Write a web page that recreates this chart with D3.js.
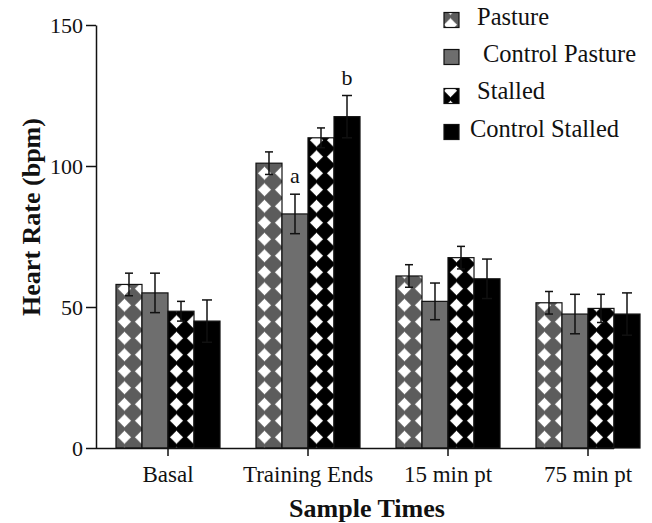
<!DOCTYPE html>
<html>
<head>
<meta charset="utf-8">
<script src="https://cdn.jsdelivr.net/npm/d3@7"></script>
<style>
  body { margin: 0; background: #fff; }
  svg text { font-family: "Liberation Serif", "Times New Roman", serif; fill: #111; }
</style>
</head>
<body>
<svg id="chart" width="652" height="523"></svg>
<script>
const categories = ['Basal', 'Training Ends', '15 min pt', '75 min pt'];
const seriesNames = ['Pasture', 'Control Pasture', 'Stalled', 'Control Stalled'];
const pasture = [58, 101, 61, 51.5];
const controlPasture = [55, 83, 52, 47.5];
const stalled = [48.5, 110, 67.5, 49.5];
const controlStalled = [45, 117.5, 60, 47.5];
const pastureErr = [4, 4, 4, 4];
const controlPastureErr = [7, 7, 6.5, 7];
const stalledErr = [3.5, 3.5, 4, 5];
const controlStalledErr = [7.5, 7.5, 7, 7.5];
const yTicks = [0, 50, 100, 150];
// significance letters: [category, series, letter]
const marks = [['Training Ends', 'Control Pasture', 'a'], ['Training Ends', 'Control Stalled', 'b']];

const values = [pasture, controlPasture, stalled, controlStalled];
const errors = [pastureErr, controlPastureErr, stalledErr, controlStalledErr];

const svg = d3.select('#chart');

// patterns: white diamonds on dark ground
const defs = svg.append('defs');
const diamond = 'M0,-6.6 Q0.8,-0.8 6.6,0 Q0.8,0.8 0,6.6 Q-0.8,0.8 -6.6,0 Q-0.8,-0.8 0,-6.6 Z';
const makePattern = (id, bg) => {
  const p = defs.append('pattern')
    .attr('id', id)
    .attr('patternUnits', 'userSpaceOnUse')
    .attr('width', 17)
    .attr('height', 16.5);
  p.append('rect').attr('width', 17).attr('height', 16.5).attr('fill', bg);
  p.append('path').attr('d', 'M0,-6.5 L6.5,0 L0,6.5 L-6.5,0 Z').attr('transform', 'translate(8.5,8.25)').attr('fill', '#fff');
  p.append('path').attr('d', diamond).attr('transform', 'translate(8.5,8.25) scale(1.05)').attr('fill', '#fff');
};
makePattern('patPasture', '#5c5c5c');
makePattern('patStalled', '#000');

const fills = ['url(#patPasture)', '#6e6e6e', 'url(#patStalled)', '#000'];

const y = d3.scaleLinear().domain([0, 150]).range([448, 25]);
const x0 = d3.scaleBand().domain(categories).range([98, 658]).paddingInner(0.257).paddingOuter(0.1285);
const x1 = d3.scaleBand().domain(seriesNames).range([0, x0.bandwidth()]);

// y axis
const yAxis = svg.append('g')
  .attr('transform', 'translate(96,0)')
  .call(d3.axisLeft(y).tickValues(yTicks).tickSize(10).tickSizeOuter(0).tickPadding(3));
yAxis.selectAll('text').style('font-size', '22px');
yAxis.selectAll('path, line').attr('stroke', '#111').attr('stroke-width', 1.5);

// bars
seriesNames.forEach((s, si) => {
  categories.forEach((c, ci) => {
    const g = svg.append('g').attr('transform', `translate(${x0(c) + x1(s)},0)`);
    g.append('rect')
      .attr('x', 0)
      .attr('y', y(values[si][ci]))
      .attr('width', x1.bandwidth())
      .attr('height', y(0) - y(values[si][ci]))
      .attr('fill', fills[si])
      .attr('stroke', '#111')
      .attr('stroke-width', 1.2);
    const cx = x1.bandwidth() / 2;
    const hi = y(values[si][ci] + errors[si][ci]);
    const lo = y(values[si][ci] - errors[si][ci]);
    const cap = si % 2 === 0 ? 4 : 5;
    const ebar = g.append('g').attr('stroke', '#111').attr('stroke-width', 1.5);
    ebar.append('line').attr('x1', cx).attr('x2', cx).attr('y1', hi).attr('y2', lo);
    ebar.append('line').attr('x1', cx - cap).attr('x2', cx + cap).attr('y1', hi).attr('y2', hi);
    ebar.append('line').attr('x1', cx - cap).attr('x2', cx + cap).attr('y1', lo).attr('y2', lo);
  });
});

// x axis
const xAxis = svg.append('g')
  .attr('transform', `translate(0,${y(0)})`)
  .call(d3.axisBottom(x0).tickSize(8).tickSizeOuter(0).tickPadding(10));
xAxis.select('.domain').attr('d', 'M96,0.5H614');
xAxis.selectAll('path, line').attr('stroke', '#111').attr('stroke-width', 1.5);
xAxis.selectAll('text').style('font-size', '23px');

// letters
marks.forEach(([c, s, t]) => {
  const si = seriesNames.indexOf(s);
  const ci = categories.indexOf(c);
  svg.append('text')
    .attr('x', x0(c) + x1(s) + x1.bandwidth() / 2)
    .attr('y', y(values[si][ci] + errors[si][ci]) - 11)
    .attr('text-anchor', 'middle')
    .style('font-size', '22px')
    .text(t);
});

// axis titles
svg.append('text')
  .attr('transform', 'translate(40,217) rotate(-90)')
  .attr('text-anchor', 'middle')
  .style('font-size', '26px')
  .style('font-weight', 'bold')
  .text('Heart Rate (bpm)');

svg.append('text')
  .attr('x', 367)
  .attr('y', 517)
  .attr('text-anchor', 'middle')
  .style('font-size', '26px')
  .style('font-weight', 'bold')
  .text('Sample Times');

// legend
const legendY = [20, 57, 96, 132];
const legendBase = [25, 62, 99, 137];
const legendX = [477, 483, 477, 470];
const legend = svg.append('g');
seriesNames.forEach((s, i) => {
  legend.append('rect')
    .attr('x', 444).attr('y', legendY[i] - 7.5)
    .attr('width', 15).attr('height', 15)
    .attr('fill', fills[i])
    .attr('stroke', '#111')
    .attr('stroke-width', 1.2);
  legend.append('text')
    .attr('x', legendX[i])
    .attr('y', legendBase[i])
    .style('font-size', '24.5px')
    .text(s);
});
</script>
</body>
</html>
